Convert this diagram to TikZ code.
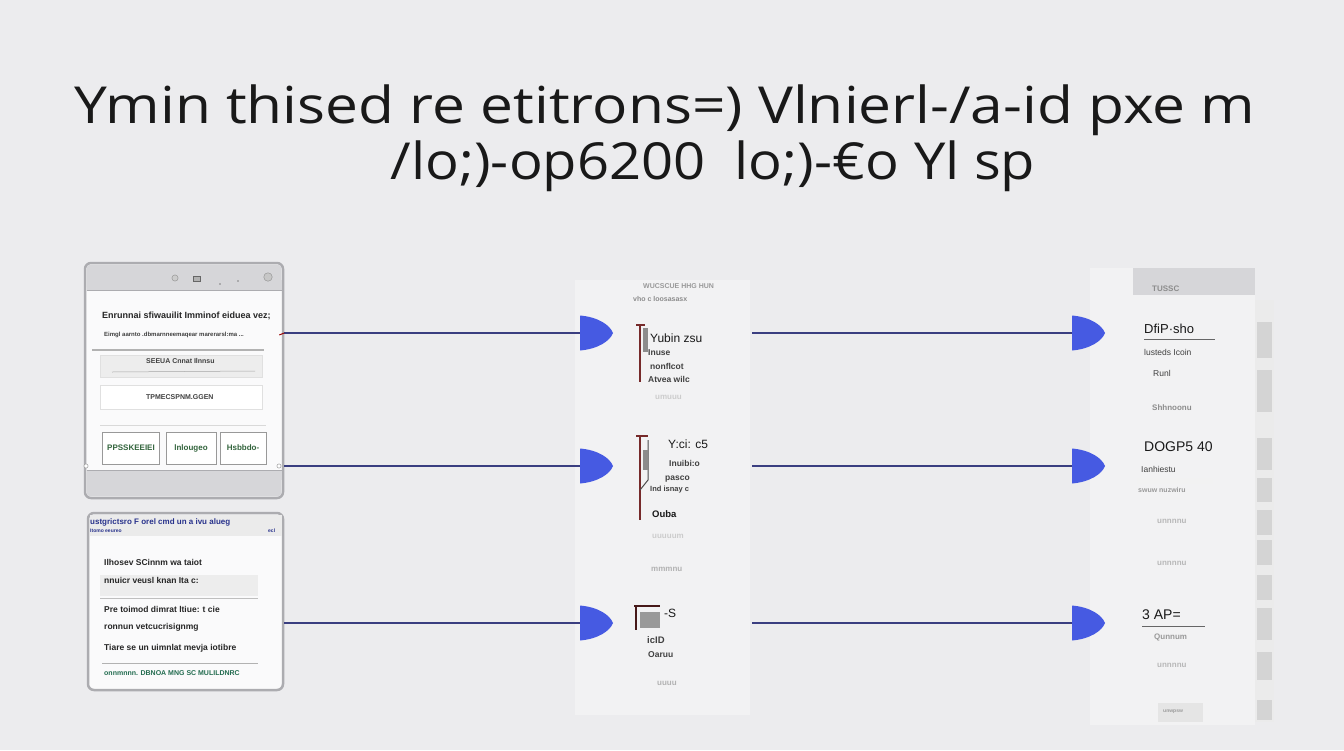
\documentclass[tikz,border=0pt]{standalone}
\usepackage{fontspec}
\setmainfont{Liberation Sans}
\newfontfamily\titlefont{Open Sans}
\usetikzlibrary{calc}
\definecolor{bgc}{RGB}{236,236,238}
\definecolor{winborder}{RGB}{172,172,176}
\definecolor{winbar}{RGB}{214,214,217}
\definecolor{wininner}{RGB}{250,250,251}
\definecolor{connc}{RGB}{58,62,128}
\definecolor{headc}{RGB}{70,90,226}
\definecolor{bracketc}{RGB}{118,42,42}
\definecolor{panelc}{RGB}{242,242,243}
\definecolor{fadec}{RGB}{185,185,188}
\definecolor{greenc}{RGB}{50,100,60}
\definecolor{bluehd}{RGB}{40,50,140}
\tikzset{
  conn/.style={draw=connc, line width=1.3pt},
  titletxt/.style={inner sep=0pt, font=\titlefont\fontsize{51}{58}\selectfont, text=black!90},
  txt/.style={inner sep=0pt, anchor=west, font=\fontsize{9}{10}\selectfont\bfseries, text=black!85},
  smalltxt/.style={inner sep=0pt, anchor=west, font=\fontsize{7}{8}\selectfont\bfseries, text=black!75},
  fadetxt/.style={inner sep=0pt, anchor=west, font=\fontsize{8}{9}\selectfont\bfseries, text=fadec},
  bigtxt/.style={inner sep=0pt, anchor=west, font=\fontsize{11}{12}\selectfont, text=black!90},
  btn/.style={draw=black!40, fill=white, line width=0.8pt, inner sep=0pt, font=\fontsize{8}{9}\selectfont\bfseries, text=greenc},
  bracket/.style={draw=bracketc, line width=1.6pt},
  tile/.style={fill=black!17, draw=none},
}
\newcommand{\dhead}[1]{%
  \fill[headc] ($(#1)+(0,-17.5)$) .. controls ($(#1)+(18,-16)$) and ($(#1)+(30,-8)$) .. ($(#1)+(33,0)$)
     .. controls ($(#1)+(30,8)$) and ($(#1)+(18,16)$) .. ($(#1)+(0,17.5)$) -- cycle;}
\begin{document}
\begin{tikzpicture}[x=1pt,y=-1pt]
\useasboundingbox (0,0) rectangle (1344,750);
\fill[bgc] (0,0) rectangle (1344,750);

% Title
\node[titletxt] (title1) at (665,110) {\scalebox{1.15}[1]{Ymin thised re etitrons=) Vlnierl-/a-id pxe m}};
\node[titletxt] (title2) at (713,166) {\scalebox{1.1}[1]{/lo;)-op6200\ \ lo;)-€o Yl sp}};

% panels
\fill[panelc] (575,280) rectangle (750,715);
\fill[panelc] (1090,268) rectangle (1255,725);
\fill[winbar] (1133,268) rectangle (1255,295);
\node[fadetxt, text=black!45] (rtop) at (1152,289) {TUSSC};

% side strip
\fill[black!8] (1255,300) rectangle (1274,722);
\foreach \ya/\yb in {322/358, 370/412, 438/470, 478/502, 510/535, 540/565, 575/600, 608/640, 652/680, 700/720}
  \fill[tile] (1257,\ya) rectangle (1272,\yb);

% Window 1
\node[draw=winborder, line width=2.5pt, rounded corners=6pt, fill=wininner, minimum width=198pt, minimum height=235pt, inner sep=0pt] (win1) at (184,380.5) {};
\fill[winbar, rounded corners=4pt] (86.5,264.5) rectangle (281.5,290);
\fill[winbar] (86.5,280) rectangle (281.5,290);
\fill[winbar, rounded corners=4pt] (86.5,470) rectangle (281.5,496.5);
\fill[winbar] (86.5,470) rectangle (281.5,480);
\draw[winborder, line width=1pt] (86.5,290) -- (281.5,290) (86.5,470) -- (281.5,470);
\node[circle, draw=black!45, fill=black!20, inner sep=2.2pt] (ic1) at (175,278) {};
\node[draw=black!60, fill=black!30, minimum width=7pt, minimum height=5pt, inner sep=0pt] (ic2) at (197,279) {};
\node[circle, fill=black!50, inner sep=0.6pt] (ic3) at (220,284) {};
\node[circle, fill=black!50, inner sep=0.6pt] (ic4) at (238,281) {};
\node[circle, draw=black!45, fill=black!22, inner sep=3pt] (ic5) at (268,277) {};
\node[txt] (w1t1) at (102,316) {Enrunnai sfiwauilit Imminof eiduea vez;};
\node[smalltxt, font=\fontsize{6}{7}\selectfont\bfseries] (w1t2) at (104,335) {Eimgl aarnto .dbmarnneemaqear marerarsl:ma ...};
\draw[black!30, line width=2pt] (92,350) -- (264,350);
\node[draw=black!12, fill=black!7, minimum width=162pt, minimum height=22pt, inner sep=0pt] (w1b1) at (181,366) {};
\node[smalltxt] (w1b1t) at (146,361) {SEEUA Cnnat Ilnnsu};
\draw[black!35, line width=0.5pt] (112,372) -- (255,371);
\node[draw=black!12, fill=white, minimum width=162pt, minimum height=24pt, inner sep=0pt] (w1b2) at (181,397) {};
\node[smalltxt] (w1b2t) at (146,397) {TPMECSPNM.GGEN};
\draw[black!15, line width=0.8pt] (100,425) -- (266,425);
\node[btn, minimum width=57pt, minimum height=32pt] (bt1) at (131,448) {PPSSKEEIEI};
\node[btn, minimum width=50pt, minimum height=32pt] (bt2) at (191,448) {lnlougeo};
\node[btn, minimum width=46pt, minimum height=32pt] (bt3) at (243,448) {Hsbbdo-};

% Window 2
\node[draw=winborder, line width=2.5pt, rounded corners=6pt, fill=wininner, minimum width=195pt, minimum height=177pt, inner sep=0pt] (win2) at (185.5,601.5) {};
\fill[black!8] (89.5,514.5) rectangle (281.5,536);
\node[smalltxt, font=\fontsize{8}{9}\selectfont\bfseries, text=bluehd] (w2h) at (90,522) {ustgrictsro F orel cmd un a ivu alueg};
\node[smalltxt, font=\fontsize{5}{6}\selectfont\bfseries, text=bluehd] (w2h2) at (90,531) {Itomo eeureo};
\node[smalltxt, font=\fontsize{5}{6}\selectfont\bfseries, text=bluehd] (w2h3) at (268,531) {ecl};
\node[txt, font=\fontsize{8.5}{10}\selectfont\bfseries] (w2t1) at (104,562) {Ilhosev SCinnm wa taiot};
\fill[black!7] (100,575) rectangle (258,596);
\node[txt, font=\fontsize{8.5}{10}\selectfont\bfseries] (w2t2) at (104,580) {nnuicr veusl knan Ita c:};
\draw[black!25, line width=0.6pt] (100,598) -- (258,598);
\node[txt, font=\fontsize{8.5}{10}\selectfont\bfseries] (w2t3) at (104,609) {Pre toimod dimrat ltiue: t cie};
\node[txt, font=\fontsize{8.5}{10}\selectfont\bfseries] (w2t4) at (104,627) {ronnun vetcucrisignmg};
\node[txt, font=\fontsize{8.5}{10}\selectfont\bfseries] (w2t5) at (104,648) {Tiare se un uimnlat mevja iotibre};
\draw[black!30, line width=0.6pt] (102,663) -- (258,663);
\node[smalltxt, font=\fontsize{7}{8}\selectfont\bfseries, text=greenc!70!teal] (w2t6) at (104,673) {onnmnnn. DBNOA MNG SC MULILDNRC};

% Arrow heads (named coordinates)
\coordinate (h1) at (580,333);
\coordinate (h2) at (580,466);
\coordinate (h3) at (580,623);
\coordinate (h4) at (1072,333);
\coordinate (h5) at (1072,466);
\coordinate (h6) at (1072,623);
\coordinate (s1) at (win1.east |- h1);
\coordinate (s2) at (win1.east |- h2);
\coordinate (s3) at (win2.east |- h3);
\coordinate (m1) at (752,333);
\coordinate (m2) at (752,466);
\coordinate (m3) at (752,623);

\draw[conn] (s1) -- (h1);
\draw[conn] (s2) -- (h2);
\draw[conn] (s3) -- (h3);
\draw[conn] (m1) -- (h4);
\draw[conn] (m2) -- (h5);
\draw[conn] (m3) -- (h6);
\dhead{h1} \dhead{h2} \dhead{h3} \dhead{h4} \dhead{h5} \dhead{h6}
\draw[red!60!black, line width=1pt] (s1) -- ++(-5,2);
\node[circle, draw=black!45, fill=white, inner sep=1.5pt] (c1) at (279,466) {};
\node[circle, draw=black!45, fill=white, inner sep=1.5pt] (c2) at (86,466) {};

% Middle column
\node[fadetxt, font=\fontsize{7}{8}\selectfont\bfseries, text=black!40] (mt0) at (643,286) {WUCSCUE HHG HUN};
\node[fadetxt, font=\fontsize{7}{8}\selectfont\bfseries, text=black!45] (mt00) at (633,299) {vho c loosasasx};
\draw[bracket] (636,325) -- (645,325) (640,325) -- (640,382);
\fill[black!45] (643,328) rectangle (648,352);
\node[bigtxt, font=\fontsize{12}{13}\selectfont] (mt1) at (650,338) {Yubin zsu};
\node[smalltxt, font=\fontsize{8.5}{9}\selectfont\bfseries] (mt2) at (648,353) {Inuse};
\node[smalltxt, font=\fontsize{8.5}{9}\selectfont\bfseries] (mt3) at (650,366) {nonflcot};
\node[smalltxt, font=\fontsize{8.5}{9}\selectfont\bfseries] (mt4) at (648,379) {Atvea wilc};
\node[fadetxt, text=black!20] (mt5) at (655,397) {umuuu};

\draw[bracket] (636,436) -- (648,436) (640,436) -- (640,520);
\draw[black!70, line width=1pt] (648,440) -- (648,480) -- (640,490);
\fill[black!45] (643,450) rectangle (648,470);
\node[bigtxt, font=\fontsize{12}{13}\selectfont] (mt6) at (668,444) {Y:ci: c5};
\node[smalltxt, font=\fontsize{8.5}{9}\selectfont\bfseries] (mt7) at (669,463) {Inuibi:o};
\node[smalltxt, font=\fontsize{8.5}{9}\selectfont\bfseries] (mt8) at (665,479) {pasco};
\node[smalltxt, font=\fontsize{7.5}{8}\selectfont\bfseries] (mt9) at (650,490) {Ind isnay c};
\node[bigtxt, font=\fontsize{9.5}{10}\selectfont\bfseries] (mt10) at (652,514) {Ouba};
\node[fadetxt, text=black!20] (mt11) at (652,536) {uuuuum};
\node[fadetxt, text=black!30] (mt12) at (651,569) {mmmnu};

\draw[bracket, bracketc!60!black] (634,606) -- (660,606) (636,606) -- (636,630);
\fill[black!40] (640,612) rectangle (660,628);
\node[bigtxt, font=\fontsize{12}{13}\selectfont] (mt13) at (664,613) {-S};
\node[smalltxt, font=\fontsize{9.5}{10}\selectfont\bfseries] (mt14) at (647,640) {icID};
\node[smalltxt, font=\fontsize{8.5}{9}\selectfont\bfseries] (mt15) at (648,655) {Oaruu};
\node[fadetxt, text=black!30] (mt16) at (657,683) {uuuu};

% Right column
\node[bigtxt, font=\fontsize{13}{14}\selectfont] (rt1) at (1144,329) {DfiP·sho};
\draw[black!60, line width=0.6pt] (1144,339) -- (1215,339);
\node[smalltxt, font=\fontsize{8.5}{9}\selectfont] (rt2) at (1144,352) {lusteds Icoin};
\node[smalltxt, font=\fontsize{8.5}{9}\selectfont] (rt3) at (1153,373) {Runl};
\node[fadetxt, text=black!45] (rt4) at (1152,408) {Shhnoonu};
\node[bigtxt, font=\fontsize{14}{15}\selectfont] (rt5) at (1144,447) {DOGP5 40};
\node[smalltxt, font=\fontsize{8.5}{9}\selectfont] (rt6) at (1141,469) {Ianhiestu};
\fill[black!5] (1137,478) rectangle (1213,484);
\node[fadetxt, text=black!40, font=\fontsize{7}{8}\selectfont\bfseries] (rt7) at (1138,490) {swuw nuzwiru};
\node[fadetxt, text=black!28] (rt8) at (1157,521) {unnnnu};
\node[fadetxt, text=black!28] (rt9) at (1157,563) {unnnnu};
\node[bigtxt, font=\fontsize{14}{15}\selectfont] (rt10) at (1142,615) {3 AP=};
\draw[black!60, line width=0.6pt] (1142,626) -- (1205,626);
\node[fadetxt, text=black!40] (rt11) at (1154,637) {Qunnum};
\node[fadetxt, text=black!28] (rt12) at (1157,665) {unnnnu};
\fill[black!10] (1158,703) rectangle (1203,722);
\node[fadetxt, text=black!40, font=\fontsize{5}{6}\selectfont\bfseries] (rt13) at (1163,712) {unwpsw};
\end{tikzpicture}
\end{document}
